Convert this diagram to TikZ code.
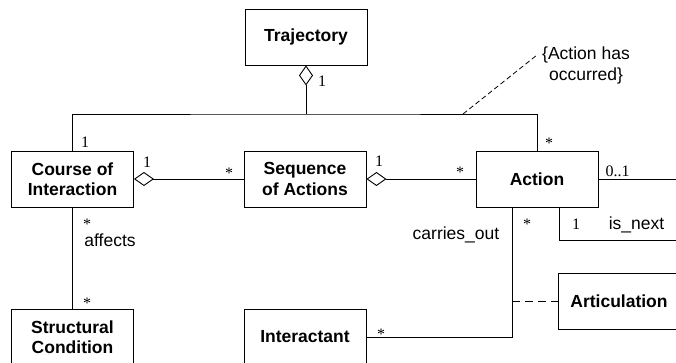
\documentclass[tikz,border=0pt]{standalone}
\usepackage{fontspec}
\setmainfont{Liberation Sans}
\newfontfamily\multfont{Liberation Serif}
\usetikzlibrary{arrows.meta}

\begin{document}
\begin{tikzpicture}[x=1pt,y=-1pt,line width=0.9pt,
	cls/.style={draw,minimum width=122pt,minimum height=56pt,align=center,
		font=\fontsize{17.5}{20.5}\selectfont\bfseries},
	mult/.style={inner sep=0,anchor=base,font=\fontsize{16}{16}\selectfont\multfont},
	role/.style={inner sep=0,anchor=base,font=\fontsize{17.5}{20.5}\selectfont},
	agg/.style={{Diamond[open,length=20pt,width=14pt]}-}]
\useasboundingbox (0,0) rectangle (676,362);
\node [cls] (traj) at (306,37) {Trajectory};
\node [cls] (course) at (72.5,179) {Course of\\Interaction};
\node [cls] (seq) at (305,179) {Sequence\\of Actions};
\node [cls] (action) at (537,179) {Action};
\node [cls] (struct) at (72.5,337) {Structural\\Condition};
\node [cls] (inter) at (305,337) {Interactant};
\node [cls] (artic) at (619,301.5) {Articulation};
\node [role,align=center,font=\fontsize{17.5}{21}\selectfont,anchor=center] (occ) at (586,65) {\{Action has\\occurred\}};
\coordinate (bus) at (306,114);
\coordinate (busnote) at (463,114);
\coordinate (carry) at ([xshift=-25pt]action.south);

\draw
(course.north) |- (bus) -| (action.north)
(course.south) -- (struct.north)
(action.east) -- ++(90,0)
([xshift=22pt]action.south) -- ++(0,33) -- ++(120,0)
(carry) |- (inter.east)
;
\draw [agg] (traj.south) -- (bus);
\draw [agg] (course.east) -- (seq.west);
\draw [agg] (seq.east) -- (action.west);
% assoziationsklasse und notiz
\draw [dash pattern=on 8pt off 5pt] (carry |- artic.west) -- (artic.west);
\draw [dash pattern=on 5pt off 3pt,line width=0.8pt] (busnote) -- ([xshift=-6pt,yshift=9pt]occ.west);

\node [mult] (m1) at (322,86) {1};
\node [mult] (m2) at (85,147) {1};
\node [mult] (m3) at (549,148) {*};
\node [mult] (m4) at (147,167) {1};
\node [mult] (m5) at (229,178) {*};
\node [mult] (m6) at (379,166) {1};
\node [mult] (m7) at (460,177) {*};
\node [mult] (m8) at (617.5,176) {0..1};
\node [mult] (m9) at (576,229) {1};
\node [role] (next) at (636.5,229) {is\_next};
\node [role] (carries) at (456,239) {carries\_out};
\node [mult] (m10) at (527,229) {*};
\node [mult] (m11) at (87,229) {*};
\node [role] (aff) at (110,246) {affects};
\node [mult] (m12) at (87,308) {*};
\node [mult] (m13) at (381,339) {*};
\end{tikzpicture}
\end{document}
